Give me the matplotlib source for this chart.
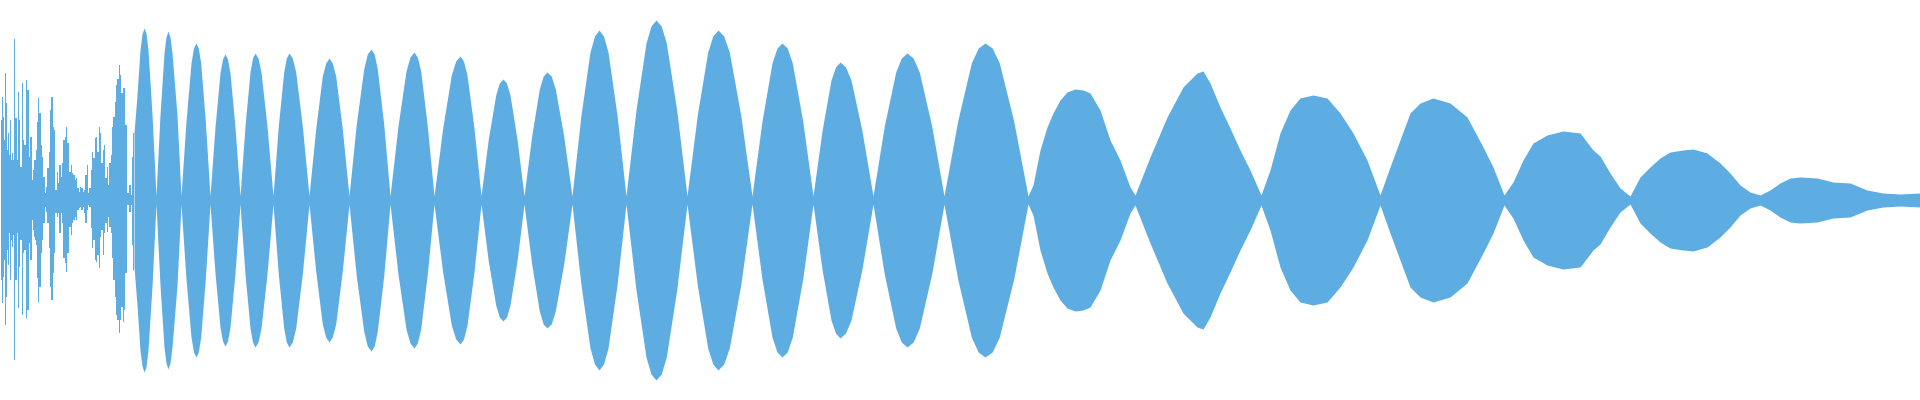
import matplotlib
matplotlib.use("Agg")
import matplotlib.pyplot as plt

WAVE_COLOR = "#5DADE2"

# --- Left, noisy attack section: per-column peak readings (x, upper peak, lower peak) ---
attack_x = [0.5, 1.5, 2.5, 3.5, 4.5, 5.3, 6.3, 7.3, 8.3, 9.5, 10.5, 11.5, 12.5, 13.5,
            14.5, 16, 17.5, 18.5, 19.5, 21, 22, 23.3, 24.7, 26.5, 28, 29.3, 31, 32, 33,
            34, 35.3, 36.3, 37.3, 38.7, 40, 41.3, 42.7, 44, 45.3, 46.7, 48, 49.3, 50.7,
            52, 53.3, 54.7, 56, 57.3, 58.7, 60, 61.3, 62.7, 64, 65.3, 66.7, 68, 70, 71.3,
            72.7, 74, 75.3, 76.7, 78, 79.3, 80.7, 82, 83.3, 84.7, 86, 87.3, 88.7, 90,
            91.3, 92.7, 94, 95.3, 96.7, 98, 99.3, 100.7, 102, 103.3, 104.7, 106, 107.3,
            108.7, 110, 111.3, 112.7, 114, 115.3, 116.7, 118, 119.3, 120.7, 122, 123.3,
            124.7, 126, 127.3, 128.7, 130, 131.3, 132.7, 134]
attack_top = [67, 80, 103, 83, 60, 127, 97, 50, 67, 45, 80, 40, 47, 40,
              161, 82, 40, 108, 80, 33, 117, 60, 55, 120, 110, 43, 63, 20, 30,
              40, 40, 50, 78, 102, 87, 55, 43, 23, 7, 13, 32, 48, 90,
              103, 73, 70, 10, 28, 17, 35, 23, 37, 60, 63, 73, 57, 28, 35,
              27, 25, 20, 22, 12, 8, 13, 12, 8, 10, 25, 35, 7, 12,
              30, 48, 42, 62, 63, 48, 73, 67, 37, 50, 55, 22, 33,
              15, 37, 45, 73, 83, 98, 115, 121, 135, 125, 107, 112,
              112, 75, 7, 7, 15, 5, 43, 67]
attack_bot = [67, 80, 103, 77, 60, 125, 97, 50, 65, 33, 80, 40, 47, 35,
              160, 80, 33, 108, 67, 40, 115, 53, 50, 118, 110, 43, 60, 20, 30,
              37, 40, 45, 78, 102, 87, 53, 40, 23, 7, 12, 23, 48, 87,
              100, 73, 53, 13, 17, 13, 33, 13, 23, 58, 63, 72, 53, 27, 35,
              23, 20, 17, 20, 10, 8, 7, 10, 7, 13, 23, 10, 5, 7,
              28, 48, 40, 60, 62, 55, 68, 37, 30, 55, 33, 23, 32,
              17, 27, 33, 58, 80, 97, 115, 120, 133, 120, 107, 122,
              110, 73, 5, 5, 12, 5, 45, 70]

# --- Main body: amplitude envelope readings (x, peak amplitude) ---
env_x = [134, 137, 140, 142, 144, 146, 148, 152,
         156, 160, 164, 166, 168, 170, 172, 177,
         181, 186, 191, 193.5, 196, 198.3, 200.7, 205.3,
         210, 215, 220, 222.5, 225, 227.5, 230, 235,
         240, 245, 250, 252.5, 255, 258, 261, 267,
         273, 278.3, 283.7, 286.3, 289, 292.3, 295.7, 302.3,
         309, 315.7, 322.3, 325.7, 329, 332.3, 335.7, 342.3,
         349, 356.3, 363.7, 367.3, 371, 374.2, 377.3, 383.7,
         390, 398, 406, 410, 414, 417.3, 420.7, 427.3,
         434, 442.7, 451.3, 455.7, 460, 463.5, 467, 474,
         481, 488.3, 495.7, 499.3, 503, 506.5, 510, 517,
         524, 531.7, 539.3, 543.2, 547, 551.2, 555.3, 563.7,
         572, 581, 590, 594.5, 599, 603.5, 608, 617,
         626, 636, 646, 651, 656, 661.2, 666.3, 676.7,
         687, 697.3, 707.7, 712.8, 718, 723.7, 729.3, 740.7,
         752, 762, 772, 777, 782, 787.2, 792.3, 802.7,
         813, 822, 831, 835.5, 840, 845.5, 851, 862,
         873, 884.3, 895.7, 901.3, 907, 913.2, 919.3, 931.7,
         944, 957.7, 971.3, 978.2, 985, 992.2, 999.3, 1013.7,
         1028, 1033, 1040, 1047, 1053, 1060, 1067, 1075, 1083, 1090, 1100, 1110, 1120, 1130,
         1135, 1150, 1167, 1183, 1197, 1203, 1210, 1220, 1230, 1240, 1250,
         1261, 1270, 1280, 1290, 1300, 1313, 1327, 1340, 1353, 1367,
         1380, 1390, 1400, 1410, 1420, 1433, 1450, 1467, 1483, 1493,
         1504, 1513, 1523, 1533, 1547, 1563, 1580, 1593, 1600, 1610, 1620,
         1630, 1640, 1650, 1660, 1670, 1683, 1693, 1707, 1720, 1730, 1740, 1750,
         1760, 1770, 1780, 1790, 1800, 1817, 1833, 1850, 1867, 1883, 1900, 1920]
env_amp = [67, 105, 150, 166, 172, 167, 150, 86,
           4, 85, 147, 163, 169, 163, 147, 85,
           4, 79, 137, 152, 157, 152, 137, 79,
           4, 73, 127, 141, 146, 141, 127, 73,
           4, 74, 128, 142, 147, 142, 128, 74,
           4, 74, 128, 142, 147, 142, 128, 74,
           4, 71, 124, 137, 142, 137, 124, 71,
           4, 76, 131, 146, 151, 146, 131, 76,
           4, 74, 129, 143, 148, 143, 129, 74,
           4, 72, 125, 139, 144, 139, 125, 72,
           4, 61, 105, 117, 121, 117, 105, 61,
           4, 64, 111, 124, 128, 124, 111, 64,
           4, 85, 148, 164, 170, 164, 148, 85,
           4, 90, 157, 174, 180, 174, 157, 90,
           4, 85, 148, 164, 170, 164, 148, 85,
           4, 79, 137, 152, 157, 152, 137, 79,
           4, 69, 120, 133, 138, 133, 120, 69,
           4, 74, 128, 142, 147, 142, 128, 74,
           4, 79, 137, 152, 157, 152, 137, 79,
           4, 15, 50, 73, 87, 100, 108, 111, 110, 107, 90, 60, 40, 13,
           5, 43, 83, 113, 127, 129, 117, 93, 72, 50, 30,
           5, 30, 67, 90, 102, 105, 102, 87, 67, 40,
           5, 33, 60, 87, 97, 102, 97, 83, 53, 33,
           5, 18, 40, 57, 65, 69, 67, 50, 44, 27, 12,
           4, 23, 33, 42, 48, 50, 51, 47, 37, 27, 15, 8,
           5, 10, 17, 22, 23, 22, 18, 17, 10, 7, 6, 7]

fig = plt.figure(figsize=(19.2, 4.0), dpi=100)
ax = fig.add_axes([0, 0, 1, 1])
ax.set_xlim(0, 1920)
ax.set_ylim(-200, 200)
ax.axis("off")

ax.fill_between(attack_x, attack_top, [-v for v in attack_bot], step="mid",
                color=WAVE_COLOR, linewidth=0)
ax.fill_between(env_x, env_amp, [-v for v in env_amp],
                color=WAVE_COLOR, linewidth=0)

fig.savefig("out.png", dpi=100, facecolor="white")
